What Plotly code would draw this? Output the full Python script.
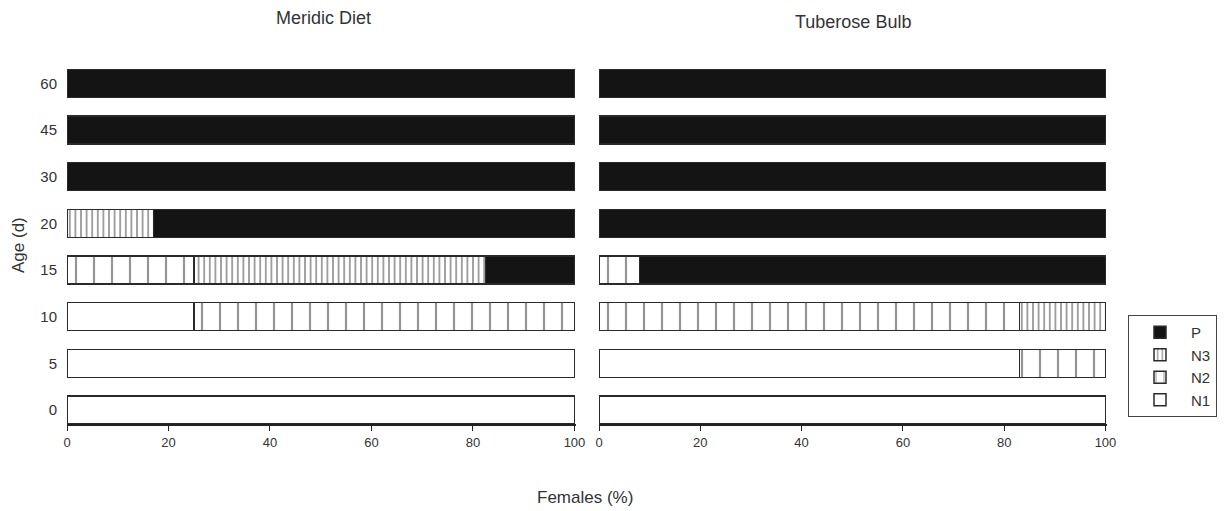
import plotly.graph_objects as go

ages = ["0", "5", "10", "15", "20", "30", "45", "60"]

# Meridic Diet (% females in each stage)
md_n1 = [100, 100, 25, None, None, None, None, None]
md_n2 = [None, None, 75, 25, None, None, None, None]
md_n3 = [None, None, None, 57.5, 17, None, None, None]
md_p = [None, None, None, 17.5, 83, 100, 100, 100]

# Tuberose Bulb
tb_n1 = [100, 83, None, None, None, None, None, None]
tb_n2 = [None, 17, 83, 8, None, None, None, None]
tb_n3 = [None, None, 17, None, None, None, None, None]
tb_p = [None, None, None, 92, 100, 100, 100, 100]

stages = ["N1", "N2", "N3", "P"]
panels = [
    ("x", "y", {"N1": md_n1, "N2": md_n2, "N3": md_n3, "P": md_p}, True),
    ("x2", "y2", {"N1": tb_n1, "N2": tb_n2, "N3": tb_n3, "P": tb_p}, False),
]

LINE = "#2a2a2a"
style = {
    "N1": dict(color="white"),
    "N2": dict(color="white", pattern=dict(shape="|", size=18, solidity=0.12, fgcolor=LINE, bgcolor="white", fillmode="overlay")),
    "N3": dict(color="white", pattern=dict(shape="|", size=5.6, solidity=0.3, fgcolor=LINE, bgcolor="white", fillmode="overlay")),
    "P": dict(color="#141414"),
}

fig = go.Figure()
for xa, ya, data, show in panels:
    for st in stages:
        m = dict(style[st])
        m["line"] = dict(color=LINE, width=1.5)
        fig.add_trace(go.Bar(
            x=data[st], y=ages, orientation="h", name=st, legendgroup=st,
            showlegend=show, marker=m, width=0.6, xaxis=xa, yaxis=ya,
            hoverinfo="skip",
        ))

# page body has an 8px default margin; work in window pixels and convert
OFF = 8
W, H = 1226 - OFF, 511 - OFF


def px(x):
    return (x - OFF) / W


def py(y):
    return (H - (y - OFF)) / H


FONT = "Liberation Sans, Arial, sans-serif"
TXT = "#333333"
ydom = [py(424), py(60)]
xcommon = dict(range=[0, 100.3], tickvals=[0, 20, 40, 60, 80, 100], showgrid=False, zeroline=False,
               showline=True, linecolor="#222222", linewidth=2, ticks="outside", ticklen=5,
               tickcolor="#222222", automargin=False,
               tickfont=dict(size=13, color=TXT, family=FONT))
ycommon = dict(type="category", categoryorder="array", categoryarray=ages, range=[-0.3, 7.5],
               showgrid=False, zeroline=False, showline=False, ticks="outside", ticklen=6,
               tickcolor="rgba(0,0,0,0)", automargin=False,
               tickfont=dict(size=15, color=TXT, family=FONT))

fig.update_layout(
    width=W, height=H, barmode="stack", bargap=0.4,
    plot_bgcolor="white", paper_bgcolor="white",
    margin=dict(l=0, r=0, t=0, b=0, autoexpand=False),
    font=dict(family=FONT, color=TXT),
    xaxis=dict(domain=[px(67), px(576)], **xcommon),
    xaxis2=dict(domain=[px(599), px(1107)], **xcommon),
    yaxis=dict(domain=ydom, anchor="x", **ycommon),
    yaxis2=dict(domain=ydom, anchor="x2", showticklabels=False, **ycommon),
    legend=dict(x=px(1128), y=py(315), xanchor="left", yanchor="top",
                traceorder="reversed", bordercolor="#444444", borderwidth=1,
                font=dict(size=15, color=TXT, family=FONT), bgcolor="white",
                itemwidth=52, tracegroupgap=0),
    annotations=[
        dict(text="Meridic Diet", x=px(323), y=py(18), xref="paper", yref="paper",
             xanchor="center", yanchor="middle", borderpad=0, showarrow=False,
             font=dict(size=18, color=TXT)),
        dict(text="Tuberose Bulb", x=px(853), y=py(22), xref="paper", yref="paper",
             xanchor="center", yanchor="middle", borderpad=0, showarrow=False,
             font=dict(size=18, color=TXT)),
        dict(text="Females (%)", x=px(585), y=py(497), xref="paper", yref="paper",
             xanchor="center", yanchor="middle", showarrow=False, font=dict(size=17, color=TXT)),
        dict(text="Age (d)", x=px(18), y=py(245), xref="paper", yref="paper",
             xanchor="center", yanchor="middle", showarrow=False, textangle=-90,
             font=dict(size=17, color=TXT)),
    ],
)

fig.write_html("out.html")
